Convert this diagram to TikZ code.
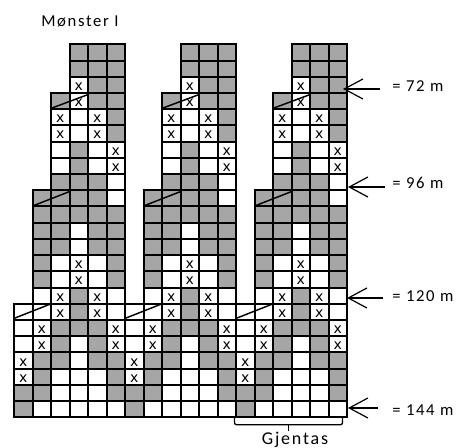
\documentclass[tikz,border=0pt]{standalone}
\usepackage{fontspec}
\usepackage{xcolor}
\setmainfont[LetterSpace=10]{Carlito}
\newfontfamily\markfont{DejaVu Sans}
\usetikzlibrary{arrows.meta, positioning}
\definecolor{patterngray}{HTML}{A6A6A6}

\begin{document}
\begin{tikzpicture}[
    x=0.75pt, y=-0.75pt,
    grayfill/.style={fill=patterngray},
    cell/.style={draw=black, line width=1.5pt},
    knot/.style={inner sep=0pt, font=\markfont\fontsize{10.5}{10.5}\selectfont},
    label/.style={inner sep=0pt, anchor=west, font=\fontsize{12.5}{12.5}\selectfont},
    arrow/.style={{Straight Barb[length=14pt,width=15pt]}-, line width=0.9pt},
    slant/.style={line width=1.1pt}
]
\useasboundingbox (0,0) rectangle (459,448);

% Title
\node[label] (title) at (41,21) {Mønster I};

% Pattern
\begin{scope}[shift={(14,44.3)}, x=13.875pt, y=-12.165pt]
\foreach \m in {0,6,12} {
    % Gray cells
    \foreach \r/\cols in {0/{3,4,5},1/{3,4,5},2/{4,5},3/{2,4,5},4/{5},5/{5},6/{3},7/{3},
                          8/{2,3,4},9/{1,2,3,4},10/{1,2,3,4,5},11/{1,2,4,5},12/{1,2,4,5},
                          13/{1,5},14/{1,5},15/{3},16/{3},17/{2,3,4},18/{2,4},
                          19/{1,2,4,5},20/{1,5},21/{0,1,5},22/{0}}
        \foreach \c in \cols
            \fill[grayfill] (\m+\c,\r) rectangle ++(1,1);
    % Outlines
    \foreach \r/\first in {0/3,1/3,2/3,3/2,4/2,5/2,6/2,7/2,8/2,9/1,10/1,11/1,12/1,13/1,14/1,15/1,
                           16/0,17/0,18/0,19/0,20/0,21/0,22/0}
        \foreach \c in {\first,...,5}
            \draw[cell] (\m+\c,\r) rectangle ++(1,1);
    % Knots
    \foreach \c/\r in {3/2,3/3,2/4,4/4,2/5,4/5,5/6,5/7,3/13,3/14,2/15,4/15,2/16,4/16,
                       1/17,5/17,1/18,5/18,0/19,0/20}
        \node[knot] (x\m-\c-\r) at (\m+\c+0.5,\r+0.6) {x};
    % Slants
    \draw[slant] (\m+2,3.95) -- (\m+4,3.1);
    \draw[slant] (\m+1,9.97) -- (\m+3,9.08);
    \draw[slant] (\m,16.9) -- (\m+2,16);
}
\end{scope}

% Labels
\node[label] (m72) at (392,86) {= 72 m};
\node[label] (m96) at (392,183) {= 96 m};
\node[label] (m120) at (392,296) {= 120 m};
\node[label] (m144) at (392,410) {= 144 m};

% Arrows
\coordinate (tip72) at (343,89);
\coordinate (tip96) at (348,187);
\coordinate (tip120) at (347,298);
\coordinate (tip144) at (348,408);
\coordinate (tail72) at (380,89);
\coordinate (tail96) at (385,187);
\coordinate (tail120) at (383,298);
\coordinate (tail144) at (378,408);
\draw[arrow] (tip72) -- (tail72);
\draw[arrow] (tip96) -- (tail96);
\draw[arrow] (tip120) -- (tail120);
\draw[arrow] (tip144) -- (tail144);

% Bracket
\coordinate (brleft) at (234.5,418);
\coordinate (brright) at (342.5,418);
\coordinate (brmid) at (288.5,424.7);
\draw[line width=1pt, rounded corners=1.5pt] (brleft) -- (brleft |- brmid) -- (brright |- brmid) -- (brright);
\draw[line width=1pt] (brmid) -- ++(0,6);
\node[inner sep=0pt, anchor=base, font=\fontsize{13.5}{13.5}\selectfont] (repeat) at (295,444) {Gjentas};

\end{tikzpicture}
\end{document}
